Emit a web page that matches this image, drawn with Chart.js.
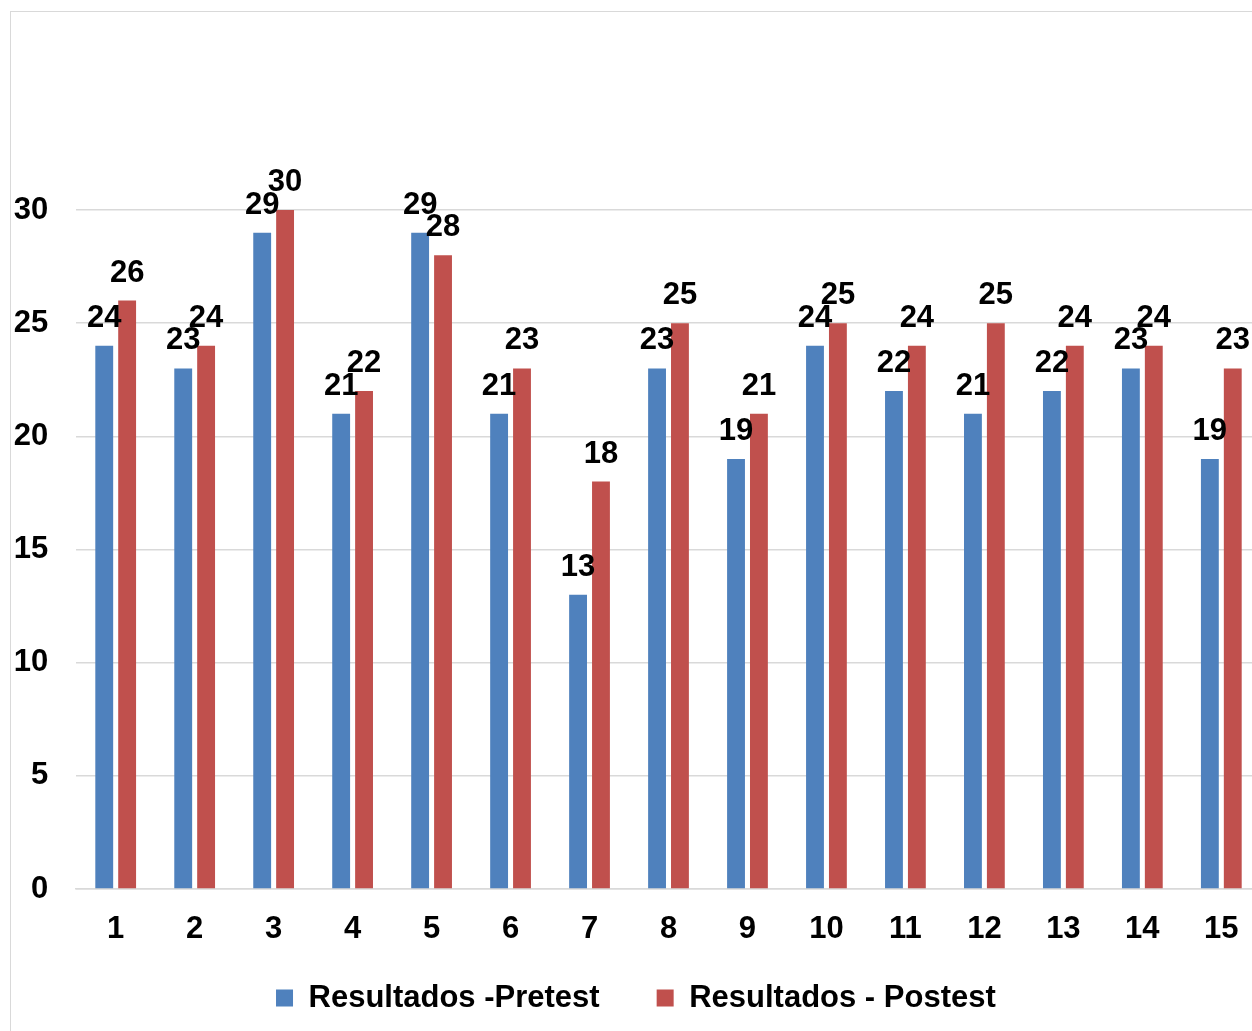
<!DOCTYPE html>
<html>
<head>
<meta charset="utf-8">
<script src="https://cdn.jsdelivr.net/npm/chart.js@4/dist/chart.umd.min.js"></script>
<style>
  html, body { margin: 0; padding: 0; background: #fff; overflow: hidden; }
  #frame {
    position: absolute; left: 10px; top: 11px;
    width: 1280px; height: 1050px;
    border: 1px solid #d9d9d9; background: #fff;
  }
  #chart { position: absolute; left: 0; top: 0; display: block; }
</style>
</head>
<body>
<div id="frame"></div>
<canvas id="chart" width="1281" height="1052"></canvas>
<script>
// Student scores before and after the intervention
const students = ['1','2','3','4','5','6','7','8','9','10','11','12','13','14','15'];
const pretest  = [24, 23, 29, 21, 29, 21, 13, 23, 19, 24, 22, 21, 22, 23, 19];
const postest  = [26, 24, 30, 22, 28, 23, 18, 25, 21, 25, 24, 25, 24, 24, 23];
const yTicks   = [0, 5, 10, 15, 20, 25, 30];
const seriesNames = ['Resultados -Pretest', 'Resultados - Postest'];

const FONT = "'Liberation Sans', Arial, sans-serif";
const FS = 31;

// Value labels drawn above each bar
const barValueLabels = {
  id: 'barValueLabels',
  afterDatasetsDraw(chart) {
    const ctx = chart.ctx;
    ctx.save();
    ctx.font = `bold ${FS}px ${FONT}`;
    ctx.fillStyle = '#000';
    ctx.textAlign = 'center';
    ctx.textBaseline = 'alphabetic';
    chart.data.datasets.forEach((ds, i) => {
      const meta = chart.getDatasetMeta(i);
      meta.data.forEach((bar, j) => {
        ctx.fillText(String(ds.data[j]), bar.x, bar.y - 19);
      });
    });
    ctx.restore();
  }
};

new Chart(document.getElementById('chart'), {
  type: 'bar',
  data: {
    labels: students,
    datasets: [
      { label: seriesNames[0], data: pretest, backgroundColor: '#4f81bd',
        categoryPercentage: 0.58, barPercentage: 0.78 },
      { label: seriesNames[1], data: postest, backgroundColor: '#c0504d',
        categoryPercentage: 0.58, barPercentage: 0.78 }
    ]
  },
  options: {
    responsive: false,
    animation: false,
    events: [],
    layout: { padding: { top: 210, right: 20.2, bottom: 28.5, left: 11 } },
    plugins: {
      tooltip: { enabled: false },
      legend: {
        position: 'bottom',
        labels: {
          boxWidth: 17, boxHeight: 17, padding: 41.5,
          color: '#000',
          font: { family: FONT, size: FS, weight: 'bold' },
          generateLabels(chart) {
            // a little extra room after the first key
            return Chart.defaults.plugins.legend.labels.generateLabels(chart).map((item, i) => {
              if (i === 0) item.text = item.text + '\u2002';
              return item;
            });
          }
        }
      }
    },
    scales: {
      x: {
        grid: { display: false, drawTicks: false },
        border: { display: true, color: '#d9d9d9', width: 1.5 },
        ticks: { color: '#000', padding: 21.4, font: { family: FONT, size: FS, weight: 'bold' } },
        afterFit(s) { s.height = 52; }
      },
      y: {
        min: 0, max: 30,
        afterBuildTicks(s) { s.ticks = yTicks.map(v => ({ value: v })); },
        grid: { color: '#d9d9d9', lineWidth: 1.5, drawTicks: false },
        border: { display: false },
        ticks: { color: '#000', padding: 28, font: { family: FONT, size: FS, weight: 'bold' } },
        afterFit(s) { s.width = 65.2; }
      }
    }
  },
  plugins: [barValueLabels]
});
</script>
</body>
</html>
